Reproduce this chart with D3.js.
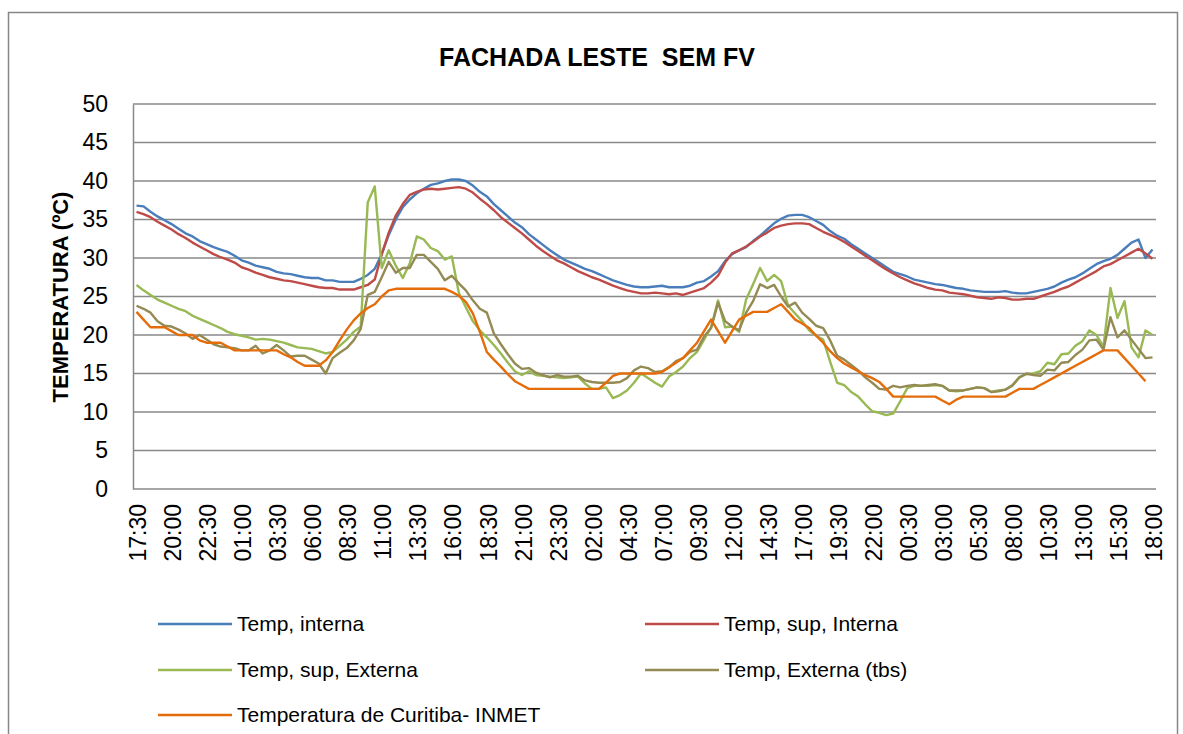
<!DOCTYPE html>
<html><head><meta charset="utf-8">
<script src="https://cdn.jsdelivr.net/npm/d3@7"></script>
<style>
html,body{margin:0;padding:0;background:#fff;}
svg{display:block;font-family:"Liberation Sans",Arial,sans-serif;}
</style></head>
<body>
<svg id="chart" width="1183" height="734"></svg>
<script>
const title = "FACHADA LESTE  SEM FV";
const yTitle = "TEMPERATURA (ºC)";
const yTicks = [0,5,10,15,20,25,30,35,40,45,50];
const tickLabels = ["17:30","20:00","22:30","01:00","03:30","06:00","08:30","11:00","13:30","16:00","18:30","21:00","23:30","02:00","04:30","07:00","09:30","12:00","14:30","17:00","19:30","22:00","00:30","03:00","05:30","08:00","10:30","13:00","15:30","18:00"];
const seriesNames = ["Temp, interna","Temp, sup, Interna","Temp, sup, Externa","Temp, Externa (tbs)","Temperatura de Curitiba- INMET"];
const seriesColors = ["#4A7EBB","#BE4B48","#98B954","#948A54","#E46C0A"];

const tempInterna = [
36.8,36.7,36.0,35.4,34.9,34.4,33.8,33.2,32.8,32.2,31.8,31.4,31.1,30.8,30.3,29.7,29.4,
29.0,28.8,28.6,28.2,28.0,27.9,27.7,27.5,27.4,27.4,27.1,27.1,26.9,26.9,26.9,27.3,27.8,28.6,30.5,33.0,
35.0,36.6,37.6,38.4,39.0,39.5,39.7,40.0,40.2,40.2,40.0,39.4,38.6,38.0,37.0,36.2,35.4,34.6,34.0,33.1,
32.4,31.7,31.0,30.4,29.8,29.4,29.0,28.6,28.3,27.9,27.5,27.1,26.8,26.5,26.3,26.2,26.2,26.3,26.4,26.2,
26.2,26.2,26.4,26.8,27.0,27.6,28.3,29.6,30.5,31.0,31.4,32.2,32.9,33.7,34.5,35.1,35.5,35.6,35.6,35.3,
34.8,34.3,33.5,32.9,32.5,31.8,31.2,30.6,30.0,29.4,28.8,28.2,27.9,27.6,27.2,27.0,26.8,26.6,26.5,26.3,
26.1,26.0,25.8,25.7,25.6,25.6,25.6,25.7,25.5,25.4,25.4,25.6,25.8,26.0,26.3,26.8,27.2,27.5,28.0,28.6,
29.2,29.6,29.9,30.4,31.2,32.0,32.4,30.0,31.1];

const tempSupInterna = [
36.0,35.7,35.3,34.7,34.2,33.7,33.1,32.6,32.0,31.5,31.0,30.5,30.1,29.8,29.4,28.8,28.5,
28.1,27.8,27.5,27.3,27.1,27.0,26.8,26.6,26.4,26.2,26.1,26.1,25.9,25.9,25.9,26.2,26.5,27.2,30.5,33.3,
35.5,37.0,38.2,38.6,38.9,39.0,38.9,39.0,39.1,39.2,39.0,38.5,37.7,37.0,36.2,35.3,34.6,33.9,33.2,32.4,
31.6,30.9,30.3,29.7,29.3,28.8,28.3,27.9,27.5,27.2,26.8,26.4,26.1,25.8,25.6,25.4,25.4,25.5,25.4,25.3,
25.4,25.2,25.5,25.8,26.1,26.8,27.7,29.4,30.6,31.0,31.5,32.1,32.8,33.3,33.9,34.2,34.4,34.5,34.5,34.4,
33.9,33.4,33.0,32.6,32.1,31.5,30.9,30.3,29.7,29.1,28.5,28.0,27.5,27.1,26.7,26.4,26.1,25.9,25.8,25.5,
25.4,25.3,25.1,24.9,24.8,24.7,24.9,24.8,24.6,24.6,24.7,24.7,25.0,25.3,25.6,26.0,26.3,26.8,27.3,27.8,
28.3,28.9,29.2,29.7,30.2,30.7,31.2,30.6,29.9];

const tempSupExterna = [
26.5,25.8,25.2,24.6,24.2,23.8,23.4,23.1,22.5,22.1,21.7,21.3,20.9,20.4,20.1,19.9,19.7,
19.4,19.5,19.4,19.2,19.0,18.7,18.4,18.3,18.2,17.9,17.6,17.8,18.6,19.4,20.4,21.1,37.2,39.3,28.7,31.0,
29.0,27.4,29.3,32.8,32.4,31.3,30.9,29.8,30.2,25.5,23.6,21.8,20.6,19.7,18.7,17.6,16.4,15.3,14.8,15.3,
14.8,14.7,14.6,14.5,14.4,14.5,14.6,13.7,13.0,13.0,13.2,11.8,12.2,12.8,13.8,15.0,14.4,13.8,13.3,14.6,
15.2,15.9,17.0,17.8,19.4,21.0,24.5,21.0,21.1,20.4,24.6,26.6,28.7,27.0,27.8,27.0,23.8,22.8,21.8,20.6,
19.9,19.4,16.5,13.8,13.5,12.6,12.0,11.0,10.1,9.9,9.6,9.8,11.4,13.1,13.4,13.4,13.4,13.5,13.4,12.8,
12.7,12.8,13.0,13.2,13.1,12.6,12.8,12.9,13.5,14.5,14.9,15.0,15.3,16.4,16.2,17.5,17.6,18.6,19.2,20.6,
20.0,18.5,26.1,22.2,24.4,18.4,17.1,20.6,20.0];

const tempExternaTbs = [
23.8,23.4,22.9,21.8,21.2,21.1,20.7,20.2,19.5,20.0,19.4,18.8,18.5,18.4,18.3,18.0,18.0,
18.6,17.6,18.0,18.7,18.0,17.2,17.3,17.3,16.8,16.3,15.0,17.0,17.7,18.3,19.3,20.8,25.2,25.6,27.5,29.5,
28.1,28.7,28.7,30.4,30.4,29.5,28.6,27.1,27.7,26.7,25.8,24.5,23.4,22.9,20.2,18.8,17.5,16.3,15.6,15.7,
15.1,14.8,14.5,14.8,14.6,14.6,14.7,14.1,13.9,13.8,13.8,13.8,13.9,14.4,15.4,15.9,15.7,15.2,15.3,15.8,
16.6,17.0,17.8,18.1,19.8,20.9,24.2,21.8,21.1,20.6,22.9,24.4,26.6,26.1,26.5,25.0,23.7,24.2,22.9,22.1,
21.2,20.9,19.3,17.3,16.8,16.1,15.4,14.5,13.8,13.0,12.9,13.4,13.2,13.4,13.5,13.4,13.5,13.6,13.4,12.8,
12.8,12.8,13.0,13.2,13.1,12.6,12.7,12.9,13.4,14.5,15.0,14.8,14.7,15.5,15.4,16.4,16.5,17.4,18.1,19.3,
19.4,18.1,22.3,19.7,20.6,19.4,18.2,17.0,17.1];

const tempInmet = [
23,22,21,21,21,20.5,20,20,20,19.3,19,19,19,18.5,18,18,18,
18,18,18,18,17.5,17.1,16.5,16,16,16,16.7,17.8,19.3,20.7,21.9,22.8,23.5,24.0,25.0,25.8,
26,26,26,26,26,26,26,26,25.6,25.1,24.3,22.8,20.4,17.8,16.8,15.9,14.9,14.0,13.5,13,
13,13,13,13,13,13,13,13,13,13,13.8,14.7,15,15,15,15,15,15,15.2,15.8,
16.4,17,18,19,20.5,22,20.5,19,20.5,22,22.5,23,23,23,23.5,24,23,22,21.5,20.9,
19.9,19.0,17.9,17.0,16.3,15.8,15.3,14.8,14.4,13.9,13.0,12,12,12,12,12,12,12,11.5,11,
11.6,12,12,12,12,12,12,12,12.5,13,13,13,13.5,14.0,14.5,15.0,15.5,16.0,16.5,17.0,
17.5,18,18,18,17,16,15,14,null];

const seriesData = [tempInterna, tempSupInterna, tempSupExterna, tempExternaTbs, tempInmet];

(function(){
const svg = d3.select("#chart");
const pLeft = 133, pRight = 1156, pTop = 104, pBottom = 489;
const nCat = tempInterna.length;

// outer frame
svg.append("rect").attr("x",8.5).attr("y",12.5).attr("width",1169).attr("height",740)
  .attr("fill","none").attr("stroke","#868686").attr("stroke-width",1.5);

const x = d3.scalePoint().domain(d3.range(nCat)).range([pLeft,pRight]).padding(0.5);
const y = d3.scaleLinear().domain([0,50]).range([pBottom,pTop]);

// gridlines
svg.append("g").selectAll("line").data(yTicks).join("line")
  .attr("x1",pLeft).attr("x2",pRight)
  .attr("y1",d=>y(d)).attr("y2",d=>y(d))
  .attr("stroke","#898989").attr("stroke-width",1.5);

// y axis
const yAxis = d3.axisLeft(y).tickValues(yTicks).tickSize(0).tickPadding(25);
const gy = svg.append("g").attr("transform",`translate(${pLeft},0)`).call(yAxis);
gy.select(".domain").attr("stroke","#898989").attr("stroke-width",1.5);
gy.selectAll("text").attr("font-size",23).attr("fill","#000").attr("font-family","'Liberation Sans',Arial,sans-serif");

// x labels
const xg = svg.append("g");
xg.selectAll("text").data(tickLabels).join("text")
  .attr("transform",(d,i)=>`translate(${x(i*5)},504) rotate(-90)`)
  .attr("text-anchor","end").attr("dy","0.42em")
  .attr("font-size",23).attr("fill","#000").text(d=>d);

// lines
const line = d3.line().defined(d=>d!=null).x((d,i)=>x(i)).y(d=>y(d));
svg.append("g").selectAll("path").data(seriesData).join("path")
  .attr("d",line).attr("fill","none")
  .attr("stroke",(d,i)=>seriesColors[i]).attr("stroke-width",2.4)
  .attr("stroke-linejoin","round");

// title
svg.append("text").attr("x",597).attr("y",66).attr("text-anchor","middle")
  .attr("font-size",25).attr("font-weight","bold").style("white-space","pre").text(title);

// y title
svg.append("text").attr("transform","translate(60,297) rotate(-90)")
  .attr("text-anchor","middle").attr("dy","0.35em")
  .attr("font-size",22).attr("font-weight","bold").text(yTitle);

// legend
const legPos = [[158,624],[645,624],[158,670],[645,670],[158,715]];
const lg = svg.append("g").selectAll("g").data(seriesNames).join("g")
  .attr("transform",(d,i)=>`translate(${legPos[i][0]},${legPos[i][1]})`);
lg.append("line").attr("x1",0).attr("x2",74).attr("y1",0).attr("y2",0)
  .attr("stroke",(d,i)=>seriesColors[i]).attr("stroke-width",2.4);
lg.append("text").attr("x",79).attr("dy","0.35em").attr("font-size",21).text(d=>d);
})();
</script>
</body></html>
